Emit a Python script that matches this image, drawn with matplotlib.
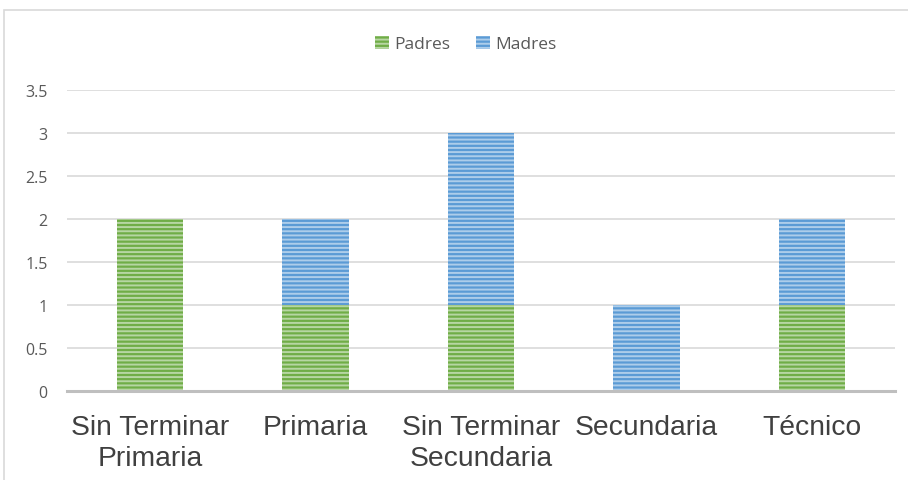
import matplotlib.pyplot as plt
from matplotlib.patches import Rectangle
import numpy as np

categories = ['Sin Terminar\nPrimaria', 'Primaria', 'Sin Terminar\nSecundaria', 'Secundaria', 'Técnico']
padres = [2, 1, 1, 0, 1]
madres = [0, 1, 2, 1, 1]

plt.rcParams['font.family'] = ['Open Sans', 'DejaVu Sans']
plt.rcParams['hatch.color'] = '#ffffff80'
plt.rcParams['hatch.linewidth'] = 1.4

fig = plt.figure(figsize=(9.08, 4.81), dpi=100)
ax = fig.add_axes([67 / 908, 89 / 481, 828 / 908, 301 / 481])

# chart frame (cut off at the right and bottom like the original)
fig.patches.append(Rectangle((4 / 908, -0.1), 1.2, 470 / 481 + 0.1,
                             transform=fig.transFigure, fill=False,
                             edgecolor='#d9d9d9', linewidth=1.2))

x = np.arange(len(categories))
w = 0.4
ax.bar(x, padres, w, color='#70ad47', hatch='----', label='Padres', zorder=2)
ax.bar(x, madres, w, bottom=padres, color='#5b9bd5', hatch='----', label='Madres', zorder=2)

ax.set_xlim(-0.5, len(categories) - 0.5)
ax.set_ylim(0, 3.5)
ax.set_yticks(np.arange(0, 3.51, 0.5))
ax.set_yticklabels(['0', '0.5', '1', '1.5', '2', '2.5', '3', '3.5'])
ax.set_xticks(x)
ax.set_xticklabels(categories, fontsize=20.3, color='#404040', linespacing=1.24,
                   family=['Liberation Sans', 'DejaVu Sans'])
ax.tick_params(axis='y', length=0, pad=14, labelsize=11.5, labelcolor='#595959')
ax.tick_params(axis='x', length=0, pad=16.5)

ax.grid(axis='y', color='#d9d9d9', linewidth=1.2, zorder=0)
for s in ['top', 'right', 'left']:
    ax.spines[s].set_visible(False)
ax.spines['bottom'].set_color('#bfbfbf')
ax.spines['bottom'].set_linewidth(2.2)
ax.spines['bottom'].set_zorder(3)

leg = ax.legend(loc='center', bbox_to_anchor=(0.482, 1 + 46 / 301), ncol=2, frameon=False,
                fontsize=12.5, handlelength=0.8, handleheight=0.8, handletextpad=0.3,
                columnspacing=1.5)
for t in leg.get_texts():
    t.set_color('#595959')

fig.savefig('out.png', dpi=100)
